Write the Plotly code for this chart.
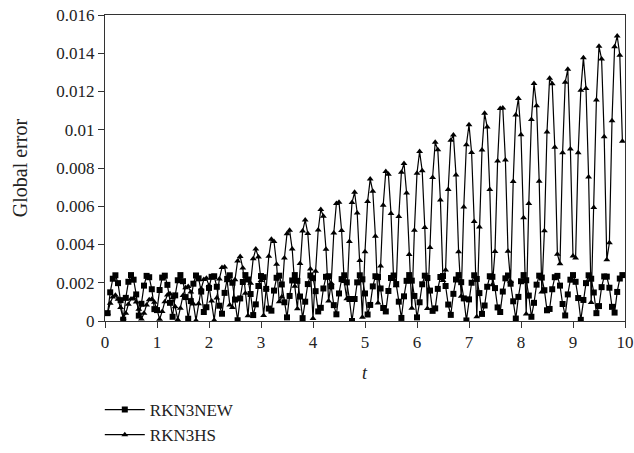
import plotly.graph_objects as go

# sample times t
t = [0.05, 0.1, 0.15, 0.2, 0.25, 0.3, 0.35, 0.4, 0.45, 0.5,
     0.55, 0.6, 0.65, 0.7, 0.75, 0.8, 0.85, 0.9, 0.95, 1.0,
     1.05, 1.1, 1.15, 1.2, 1.25, 1.3, 1.35, 1.4, 1.45, 1.5,
     1.55, 1.6, 1.65, 1.7, 1.75, 1.8, 1.85, 1.9, 1.95, 2.0,
     2.05, 2.1, 2.15, 2.2, 2.25, 2.3, 2.35, 2.4, 2.45, 2.5,
     2.55, 2.6, 2.65, 2.7, 2.75, 2.8, 2.85, 2.9, 2.95, 3.0,
     3.05, 3.1, 3.15, 3.2, 3.25, 3.3, 3.35, 3.4, 3.45, 3.5,
     3.55, 3.6, 3.65, 3.7, 3.75, 3.8, 3.85, 3.9, 3.95, 4.0,
     4.05, 4.1, 4.15, 4.2, 4.25, 4.3, 4.35, 4.4, 4.45, 4.5,
     4.55, 4.6, 4.65, 4.7, 4.75, 4.8, 4.85, 4.9, 4.95, 5.0,
     5.05, 5.1, 5.15, 5.2, 5.25, 5.3, 5.35, 5.4, 5.45, 5.5,
     5.55, 5.6, 5.65, 5.7, 5.75, 5.8, 5.85, 5.9, 5.95, 6.0,
     6.05, 6.1, 6.15, 6.2, 6.25, 6.3, 6.35, 6.4, 6.45, 6.5,
     6.55, 6.6, 6.65, 6.7, 6.75, 6.8, 6.85, 6.9, 6.95, 7.0,
     7.05, 7.1, 7.15, 7.2, 7.25, 7.3, 7.35, 7.4, 7.45, 7.5,
     7.55, 7.6, 7.65, 7.7, 7.75, 7.8, 7.85, 7.9, 7.95, 8.0,
     8.05, 8.1, 8.15, 8.2, 8.25, 8.3, 8.35, 8.4, 8.45, 8.5,
     8.55, 8.6, 8.65, 8.7, 8.75, 8.8, 8.85, 8.9, 8.95, 9.0,
     9.05, 9.1, 9.15, 9.2, 9.25, 9.3, 9.35, 9.4, 9.45, 9.5,
     9.55, 9.6, 9.65, 9.7, 9.75, 9.8, 9.85, 9.9, 9.95]

rkn3new = [0.00041, 0.00150, 0.00221, 0.00239, 0.00198, 0.00109, 0.00007, 0.00121, 0.00205, 0.00240,
           0.00216, 0.00139, 0.00028, 0.00090, 0.00185, 0.00236, 0.00229, 0.00166, 0.00062, 0.00057,
           0.00162, 0.00227, 0.00237, 0.00189, 0.00095, 0.00022, 0.00134, 0.00213, 0.00240, 0.00208,
           0.00125, 0.00012, 0.00104, 0.00195, 0.00238, 0.00223, 0.00154, 0.00047, 0.00072, 0.00173,
           0.00231, 0.00234, 0.00179, 0.00080, 0.00038, 0.00147, 0.00220, 0.00239, 0.00200, 0.00112,
           0.00004, 0.00118, 0.00204, 0.00240, 0.00217, 0.00141, 0.00031, 0.00087, 0.00183, 0.00235,
           0.00229, 0.00168, 0.00065, 0.00054, 0.00159, 0.00226, 0.00237, 0.00191, 0.00098, 0.00019,
           0.00131, 0.00212, 0.00240, 0.00210, 0.00128, 0.00015, 0.00101, 0.00193, 0.00238, 0.00224,
           0.00156, 0.00050, 0.00069, 0.00170, 0.00231, 0.00234, 0.00181, 0.00083, 0.00035, 0.00144,
           0.00219, 0.00239, 0.00202, 0.00115, 0.00000, 0.00115, 0.00202, 0.00239, 0.00218, 0.00144,
           0.00034, 0.00084, 0.00181, 0.00234, 0.00230, 0.00170, 0.00068, 0.00050, 0.00157, 0.00225,
           0.00238, 0.00193, 0.00101, 0.00016, 0.00129, 0.00210, 0.00240, 0.00211, 0.00131, 0.00019,
           0.00098, 0.00192, 0.00237, 0.00225, 0.00159, 0.00053, 0.00066, 0.00168, 0.00230, 0.00235,
           0.00183, 0.00086, 0.00032, 0.00142, 0.00217, 0.00240, 0.00203, 0.00118, 0.00003, 0.00113,
           0.00200, 0.00239, 0.00220, 0.00146, 0.00037, 0.00081, 0.00179, 0.00234, 0.00231, 0.00172,
           0.00071, 0.00047, 0.00154, 0.00223, 0.00238, 0.00195, 0.00103, 0.00013, 0.00126, 0.00208,
           0.00240, 0.00213, 0.00133, 0.00022, 0.00095, 0.00190, 0.00237, 0.00227, 0.00161, 0.00056,
           0.00063, 0.00166, 0.00229, 0.00236, 0.00185, 0.00089, 0.00029, 0.00139, 0.00216, 0.00240,
           0.00205, 0.00120, 0.00006, 0.00110, 0.00198, 0.00239, 0.00221, 0.00149, 0.00041, 0.00078,
           0.00177, 0.00233, 0.00232, 0.00174, 0.00074, 0.00044, 0.00152, 0.00222, 0.00240]

rkn3hs = [0.00040, 0.00093, 0.00126, 0.00134, 0.00114, 0.00071, 0.00016, 0.00041, 0.00088, 0.00115,
          0.00119, 0.00100, 0.00062, 0.00011, 0.00041, 0.00084, 0.00111, 0.00114, 0.00098, 0.00061,
          0.00009, 0.00050, 0.00101, 0.00136, 0.00143, 0.00122, 0.00074, 0.00007, 0.00067, 0.00133,
          0.00174, 0.00181, 0.00152, 0.00089, 0.00003, 0.00090, 0.00168, 0.00217, 0.00223, 0.00185,
          0.00105, 0.00004, 0.00120, 0.00220, 0.00280, 0.00282, 0.00211, 0.00084, 0.00071, 0.00216,
          0.00314, 0.00337, 0.00277, 0.00145, 0.00027, 0.00198, 0.00326, 0.00376, 0.00335, 0.00212,
          0.00029, 0.00170, 0.00338, 0.00427, 0.00416, 0.00297, 0.00101, 0.00126, 0.00329, 0.00456,
          0.00474, 0.00376, 0.00182, 0.00064, 0.00301, 0.00470, 0.00528, 0.00458, 0.00272, 0.00013,
          0.00260, 0.00476, 0.00583, 0.00548, 0.00375, 0.00104, 0.00198, 0.00460, 0.00615, 0.00621,
          0.00473, 0.00207, 0.00116, 0.00416, 0.00619, 0.00673, 0.00565, 0.00316, 0.00020, 0.00362,
          0.00625, 0.00742, 0.00678, 0.00443, 0.00094, 0.00287, 0.00605, 0.00782, 0.00767, 0.00562,
          0.00218, 0.00184, 0.00546, 0.00778, 0.00824, 0.00669, 0.00348, 0.00067, 0.00474, 0.00773,
          0.00886, 0.00786, 0.00489, 0.00065, 0.00384, 0.00750, 0.00934, 0.00895, 0.00633, 0.00212,
          0.00267, 0.00687, 0.00945, 0.00972, 0.00763, 0.00362, 0.00129, 0.00596, 0.00922, 0.01026,
          0.00881, 0.00520, 0.00022, 0.00491, 0.00894, 0.01086, 0.01014, 0.00688, 0.00189, 0.00364,
          0.00836, 0.01111, 0.01114, 0.00842, 0.00365, 0.00207, 0.00730, 0.01077, 0.01164, 0.00974,
          0.00540, 0.00036, 0.00615, 0.01054, 0.01242, 0.01126, 0.00731, 0.00152, 0.00472, 0.00988,
          0.01269, 0.01241, 0.00908, 0.00349, 0.00299, 0.00880, 0.01249, 0.01316, 0.00900, 0.00340,
          0.00330, 0.00880, 0.01206, 0.01377, 0.01216, 0.00753, 0.00097, 0.00593, 0.01155, 0.01436,
          0.01370, 0.00964, 0.00320, 0.00409, 0.01047, 0.01434, 0.01490, 0.01390, 0.00940]

x_tickvals = [0, 1, 2, 3, 4, 5, 6, 7, 8, 9, 10]
x_ticktext = ["0", "1", "2", "3", "4", "5", "6", "7", "8", "9", "10"]
y_tickvals = [0, 0.002, 0.004, 0.006, 0.008, 0.01, 0.012, 0.014, 0.016]
y_ticktext = ["0", "0.002", "0.004", "0.006", "0.008", "0.01", "0.012", "0.014", "0.016"]

SERIF = "'Liberation Serif', 'Times New Roman', Times, serif"

fig = go.Figure()
fig.add_trace(go.Scatter(
    x=t, y=rkn3new, name="RKN3NEW", mode="lines+markers",
    line=dict(color="#000000", width=1.2),
    marker=dict(symbol="square", size=6, color="#000000"),
))
fig.add_trace(go.Scatter(
    x=t, y=rkn3hs, name="RKN3HS", mode="lines+markers",
    line=dict(color="#000000", width=1.2),
    marker=dict(symbol="triangle-up", size=6, color="#000000"),
))

axis_common = dict(
    showgrid=False, zeroline=False, showline=True, linecolor="#333333", linewidth=1,
    mirror=True, ticks="outside", ticklen=6, tickwidth=1, tickcolor="#333333",
    ticklabeloverflow="allow",
    tickfont=dict(family=SERIF, size=17, color="#222222"),
)

fig.update_layout(
    width=634, height=453,
    margin=dict(l=105, r=9, t=15, b=132, autoexpand=False),
    paper_bgcolor="white", plot_bgcolor="white",
    font=dict(family=SERIF),
    showlegend=True,
    legend=dict(
        x=-0.01, xanchor="left", y=-0.232, yanchor="top",
        font=dict(family=SERIF, size=17, color="#222222"),
        bgcolor="rgba(0,0,0,0)", tracegroupgap=0, itemwidth=40,
    ),
    xaxis=dict(range=[0, 10], tickmode="array", tickvals=x_tickvals, ticktext=x_ticktext, **axis_common),
    yaxis=dict(range=[0, 0.016], tickmode="array", tickvals=y_tickvals, ticktext=y_ticktext, **axis_common),
    annotations=[
        dict(text="Global error", textangle=-90, xref="paper", yref="paper",
             x=-0.163, y=0.5, xanchor="center", yanchor="middle", showarrow=False,
             font=dict(family=SERIF, size=20, color="#222222")),
        dict(text="<i>t</i>", xref="paper", yref="paper",
             x=0.5, y=-0.17, xanchor="center", yanchor="middle", showarrow=False,
             font=dict(family=SERIF, size=18, color="#222222")),
    ],
)

fig.write_html(
    "out.html",
    config={"displayModeBar": False},
    post_script="document.body.style.margin='0';document.body.style.overflow='hidden';",
)
